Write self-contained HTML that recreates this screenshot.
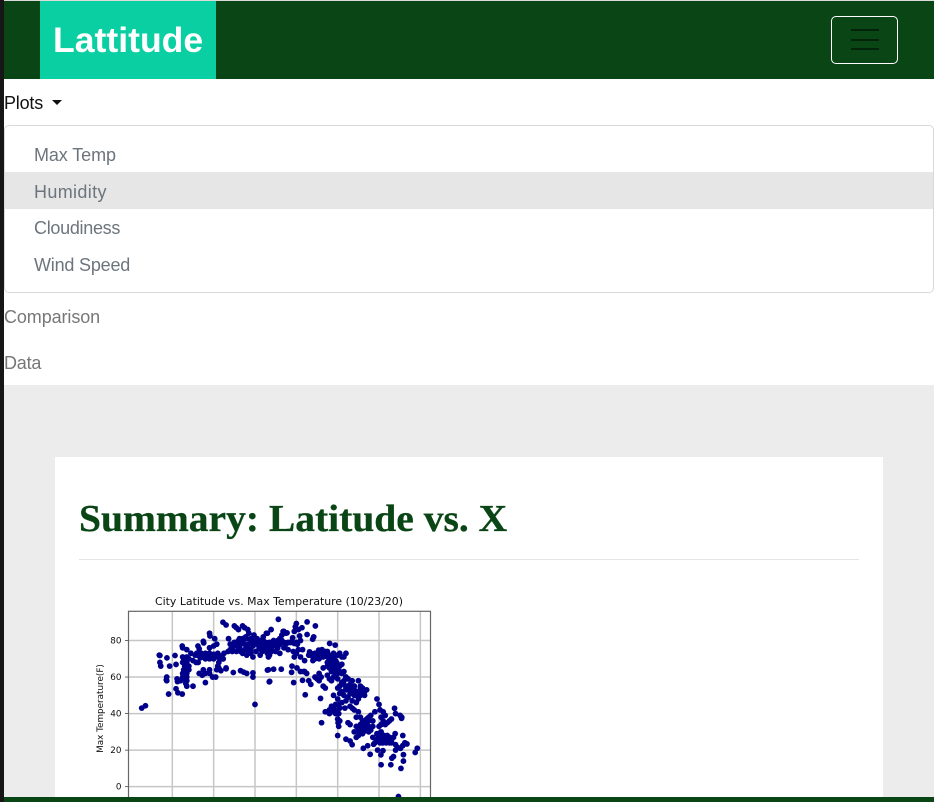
<!DOCTYPE html>
<html lang="en">
<head>
<meta charset="utf-8">
<title>Lattitude</title>
<style>
html,body{margin:0;padding:0;width:934px;height:802px;overflow:hidden;background:#ececec;font-family:"Liberation Sans",sans-serif;}
.abs{position:absolute;white-space:nowrap;}
a{text-decoration:none;}
</style>
</head>
<body>
<div class="abs" style="left:0;top:0;width:934px;height:802px;overflow:hidden;background:#ececec;">
  <div class="abs" style="left:0;top:79px;width:934px;height:306px;background:#fff;"></div>
  <div class="abs" style="left:0;top:1px;width:934px;height:78px;background:#0a4516;"></div>
  <a class="abs" href="#" style="left:40px;top:1px;width:176px;height:78px;background:#0acfa3;color:#fff;font-weight:bold;font-size:35.6px;line-height:79px;text-indent:13px;">Lattitude</a>
  <div class="abs" style="left:831px;top:16px;width:65px;height:46px;border:1px solid #fff;border-radius:5px;"></div>
  <div class="abs" style="left:851px;top:29px;width:28px;height:2px;background:#03230a;"></div>
  <div class="abs" style="left:851px;top:39px;width:28px;height:2px;background:#03230a;"></div>
  <div class="abs" style="left:851px;top:48px;width:28px;height:2px;background:#03230a;"></div>

  <a class="abs" href="#" style="left:4px;top:92px;color:#111;font-size:18px;line-height:22px;letter-spacing:-0.2px;">Plots</a>
  <div class="abs" style="left:52px;top:100px;width:0;height:0;border-left:5px solid transparent;border-right:5px solid transparent;border-top:5px solid #111;"></div>

  <div class="abs" style="left:4px;top:125px;width:928px;height:166px;border:1px solid #d9d9d9;border-radius:5px;background:#fff;"></div>
  <div class="abs" style="left:5px;top:172px;width:928px;height:37px;background:#e6e6e6;"></div>
  <a class="abs" href="#" style="left:34px;top:144px;color:#6c757d;font-size:18px;line-height:22px;letter-spacing:-0.1px;">Max Temp</a>
  <a class="abs" href="#" style="left:34px;top:181px;color:#6c757d;font-size:18px;line-height:22px;letter-spacing:0.35px;">Humidity</a>
  <a class="abs" href="#" style="left:34px;top:217px;color:#6c757d;font-size:18px;line-height:22px;letter-spacing:-0.3px;">Cloudiness</a>
  <a class="abs" href="#" style="left:34px;top:254px;color:#6c757d;font-size:18px;line-height:22px;letter-spacing:-0.2px;">Wind Speed</a>
  <a class="abs" href="#" style="left:4px;top:306px;color:#777;font-size:18px;line-height:22px;letter-spacing:-0.1px;">Comparison</a>
  <a class="abs" href="#" style="left:4px;top:352px;color:#777;font-size:18px;line-height:22px;letter-spacing:-0.2px;">Data</a>

  <div class="abs" style="left:55px;top:457px;width:828px;height:345px;background:#fff;"></div>
  <div class="abs" style="left:79px;top:497px;color:#0a4516;font-family:'Liberation Serif',serif;font-weight:bold;font-size:38px;line-height:44px;transform:scaleX(1.04);transform-origin:left center;-webkit-text-stroke:0.3px #0a4516;">Summary: Latitude vs. X</div>
  <div class="abs" style="left:79px;top:559px;width:780px;height:1px;background:#e4e4e4;"></div>

  <svg class="abs" id="chart" xmlns="http://www.w3.org/2000/svg" width="934" height="802" style="left:0;top:0;">
    <text x="279" y="605" text-anchor="middle" font-family="'DejaVu Sans',sans-serif" font-size="10.9" fill="#111">City Latitude vs. Max Temperature (10/23/20)</text>
    <text transform="translate(103,708.5) rotate(-90)" text-anchor="middle" font-family="'DejaVu Sans',sans-serif" font-size="8.8" fill="#111">Max Temperature(F)</text>
  </svg>

  <div class="abs" style="left:0;top:797px;width:934px;height:5px;background:#0a4516;"></div>
  <div class="abs" style="left:0;top:0;width:4px;height:802px;background:#161616;"></div>
  <div class="abs" style="left:4px;top:0;width:930px;height:1px;background:#dcdcdc;"></div>
</div>

<script>
const xTickValues = [-40, -20, 0, 20, 40, 60, 80];
const yTickValues = [0, 20, 40, 60, 80];
const xDomain = [-61.2, 84.9];
const yDomain = [-9, 96];
const cityLatitudes = [
-54.8,-53,-46.3,-46,-46,-45.6,-42.6,-41.3,-38.7,-38.2,-42.7,-42.7,
-42.9,-41.8,-38.2,-37.3,-35.2,-37.7,-37.5,-36,-35,-33.5,-33,-33.5,
-30,-33,-34,-33,-35,-33.5,-32.5,-34,-33,-34.5,-35,-33,
-32,-35,-35.2,-33,-31,-30,-28.5,-27.5,-26,-25,-26,-24,
-27.6,-27,-25,-24.8,-22,-21.8,-19.5,-20,-18.5,-22,-24,-26.5,
-28.2,-24,-21,-22,-20,-18,-17,-16,-15.4,-17.5,-18,-15.5,
-27,-25,-24,-25.5,-24,-22,-22,-20.5,-19,-18.5,-17.5,-16.5,
-14,-14,-12.8,-15.5,-14,-10.5,-7,-5.5,-4,-1,-1,0,
-15,-13,-11,-9,-7.5,-6,-4,-3,-2,-1,0.5,2,
-12,-11,-10,-9,-8,-7,-6,-5,-4,-3,-2,-1,
-10,-9,-8,-7.5,-6,-5,-4.5,-3.5,-3,-2,-1.5,-0.5,
0,1,2,3,4,5,6,7,8,6.5,3.5,2.5,
7.8,5.5,9,10,11,12,13,14,15,16,17,18,
3,5,6,7,8,9,10,11,12,13,14,15,
11.3,20,19.5,19,25.2,22.7,21,29.2,13.6,15.5,25.2,28.4,
27.9,21.6,18.2,18.5,20,21,22,19,20.5,22,23,24,
5.5,6.5,10,4,8,12,14,16,1,3,9,11,
6,6.9,6.5,9,12.7,17.9,20.3,17.7,7.1,18.7,23,24.3,
31.7,32.2,40,36.1,38.8,32.4,30.8,26.4,27.5,29,30,28,
33,34,35,36,37,38,39,40,41,42,43,44,
38.8,39.5,35,36.5,38,40,41,42,37,39,33,31,
22,23.5,24,25,26,27,29,30,31,32,33,34,
35,36,37,38,39,40,41,42,43,44,45,46,
42,43,44,45,46,47,48,49,50,51,38,40,
40,41,42,43,44,45,46,47,48,49,50,51,
52,53,48,46,44,42,41,40.5,39,38,37.5,36,
34,35.5,36,37,38,39,40,40.5,40,40.2,40.5,41,
43.5,45,46,47,48,49,50,51,52,53,54,55,
44,46,47,48,49,50,51,52,53,54,55,56,
53,54,55,56,57,58,59,60,60.5,61,62,63,
60,61,62,63,64,65,66,67.5,68,70.2,70.9,71,
57,58,59,60,61,62,63,64,65,66,67,68,
52.4,54.5,57.4,55.7,59.3,60.9,61.9,61,66.2,65.7,67,70.6,
71.8,71.8,77.5,78.5,73.5,68,69,70.4,71.5,67.8,71.5,69.4,
60,61,62,63,64,65,62.5,63.5,64.5,59,66,72.5,
1,3,4,6,8,9.5,11,13,15,17,19,20,
-35,-34,-33.5,-34.5,-33,-34,-32,-33,-34,-35,-33,-32,
-29,-28,-27,-26,-25,-24,-23,-22,-21,-20,-19,-18,
-12,-11,-10,-9,-8,-7,-6,-5,-4,-3,-2,-1,
35,36,37,38,39,40,41,36,37,38,39,40,
43,44,45,46,47,48,49,50,51,52,53,54,
49,50,51,52,53,54,55,56,57,50.5,52.5,54.5,
60,61,62,63,64,65,66,60.5,61.5,62.5,63.5,64.5,
26,27,28,29,30,31,32,33,34,35,36,37
];
const maxTemps = [
43,44.3,72,71.8,68,66,70.5,66,71.8,66.9,60,58,
58.5,50.7,53.6,51.4,50.7,59,57.5,58,59,59,55,56.5,
55,60,61,63,62,65,64,66,68,70,71,71,
70,76,77,75,73,69,68,68,72,71,73,72,
77,75.5,79.6,78.7,84,82.5,81,77,78,76,70,70.5,
73,73,72,70,72.5,73,70,71.5,70,68,66,70,
62,64,62,61,57,64,62,60,60,64,65,63.5,
65,64.5,81,90,88.5,62.5,63.5,62.7,62,62.3,60,45,
73,74,75,74,76,73,72,74,73,71,74,76,
78,76,78,79,77,78,79,78,76,78,79,77,
88,87,86,81,88,87,82,86,84,81,80,83,
79,81,77,80,82,79,84,79,78,76,74,72,
86,84,79,78,79,78,80,79,78,79,79,79,
77,76,73,72,74,78,77,80,81,83,85,84,
91.6,89.3,87.5,85,90.2,87,86,88,85,84.2,83.3,82,
80.7,82.5,81.5,74,73,75,71,71,78,80,75,69,
74,71,74,80,76,73,76,75,78,75,80,76,
63.8,57.4,64,64.3,64.3,66,65,62.6,57.6,57,58.2,50.3,
48.3,35,28,78.4,77.5,75,74.7,73.8,72,70,71,69,
71,73,71,72,70,73,69,72,73,71,71,73,
72,68,68,67,66,64,66,67,63,62,65,62,
63,63,63,62,58,56,60,59,58,60,55,54,
61,59,58,60,61,59,55,57,58,60,59,56,
62,63,60,59,55,58,55,52,58,54,50,48,
54,51,52,50,53,49,51,47,50,46,48,55,
54,52,55,44,47,46,43,45,45,43,41,42,
41,41,40,44,42,40,42,40,37,35,33,36,
43,35,34,43,42,38,41,38,36,35,34,36,
26,25,23,30,27,28,31,29,31,33,30,32,
36,37,38,39,36,41,48,45,42,38,41,39,
33,34,36,34,35,36,37,42.9,40,39,37.4,38,
27,24,26,29,30,25,27,26,24,26,27,23,
21,22.4,23.2,17.7,20,17.4,19.7,12,15.6,12,16.5,10,
17.5,14,18.7,21,23.4,20,21.5,21,22.5,29,28,-5.4,
25,27,24,26,25,27,28,26,25,29,24,24,
78.5,79,78.4,78.8,79,78.5,78.7,79,78.6,78.9,78.4,79,
68,67,66,64,62,61,64,69,59,60,58,66,
72,72,73,72,71,72,71,73,71,70,71,72,
75,74,79,77,80,74,81,75,81,74,75,80,
66,65,64,67,65,66,63,69,68,71,64,62,
56,54,55,53,51,53,50,52,50,52,50,53,
33,32,34,33,32,34,33,31,33,30,30,31,
26,25,27,26,28,27,25,24,24,25,24,26,
72,73,71,73,72,70,73,72,74,74,70,69
];

const plotLeft = 128.5;
const plotRight = 430.5;
const plotTop = 611.3;
const plotBottom = 803.1;
const SVG_NS = 'http://www.w3.org/2000/svg';
const svg = document.getElementById('chart');

function xScale(v) {
  return plotLeft + (v - xDomain[0]) / (xDomain[1] - xDomain[0]) * (plotRight - plotLeft);
}
function yScale(v) {
  return plotBottom - (v - yDomain[0]) / (yDomain[1] - yDomain[0]) * (plotBottom - plotTop);
}
function make(tag) {
  return document.createElementNS(SVG_NS, tag);
}
function setAttrs(el, values) {
  Object.keys(values).forEach(function (k) { el.setAttribute(k, values[k]); });
}

xTickValues.forEach(function (v) {
  const line = make('line');
  
  
  setAttrs(line, {x1: xScale(v), x2: xScale(v), y1: plotTop, y2: plotBottom, stroke: '#c6c6c6', 'stroke-width': 1.5});
  svg.appendChild(line);
});

yTickValues.forEach(function (v) {
  const line = make('line');
  
  
  setAttrs(line, {x1: plotLeft, x2: plotRight, y1: yScale(v), y2: yScale(v), stroke: '#c6c6c6', 'stroke-width': 1.5});
  svg.appendChild(line);

  const tick = make('line');
  
  
  setAttrs(tick, {x1: plotLeft - 3.5, x2: plotLeft, y1: yScale(v), y2: yScale(v), stroke: '#444', 'stroke-width': 0.8});
  svg.appendChild(tick);

  const label = make('text');
  
  
  setAttrs(label, {x: plotLeft - 7, y: yScale(v) + 3, 'text-anchor': 'end', 'font-family': "'DejaVu Sans',sans-serif", 'font-size': 8.8, fill: '#111'});
  label.textContent = String(v);
  svg.appendChild(label);
});

cityLatitudes.forEach(function (lat, i) {
  const dot = make('circle');
  
  
  setAttrs(dot, {cx: xScale(lat), cy: yScale(maxTemps[i]), r: 2.9, fill: '#00008b'});
  svg.appendChild(dot);
});

const frame = make('rect');


setAttrs(frame, {x: plotLeft, y: plotTop, width: plotRight - plotLeft, height: plotBottom - plotTop, fill: 'none', stroke: '#666', 'stroke-width': 1.2});
svg.appendChild(frame);
</script>
</body>
</html>
